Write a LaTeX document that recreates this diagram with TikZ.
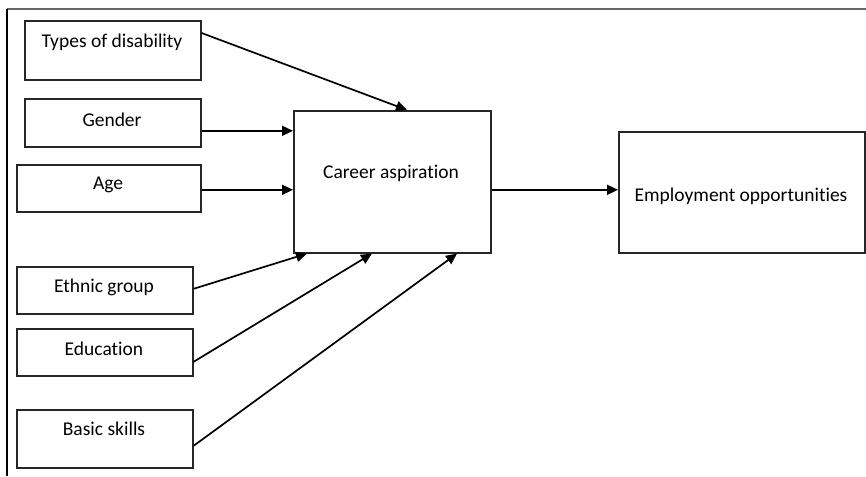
\documentclass[tikz,border=0pt]{standalone}
\usepackage{fontspec}
\setmainfont{Carlito}[Ligatures=NoCommon]
\usetikzlibrary{arrows.meta,calc}
\begin{document}
\begin{tikzpicture}[x=1pt,y=-1pt,
  box/.style={draw=black!85,line width=1.6pt,minimum width=#1,inner sep=0pt,anchor=north west},
  lbl/.style={font=\fontsize{19.5}{22}\selectfont,inner sep=0pt},
  arr/.style={line width=1.7pt,-{Triangle[length=11pt,width=10pt]}}]
\useasboundingbox (0,0) rectangle (866,476);
\draw[gray!80!black,line width=1.5pt] (7,9) coordinate (ftop) -- (866,9) coordinate (fright);
\draw[black,line width=1.2pt] (ftop) -- (7,476) coordinate (fbot);
% boxes
\node[box=176pt,minimum height=59pt] (types) at (24,20) {};
\node[box=176pt,minimum height=48pt] (gender) at (24,98) {};
\node[box=184pt,minimum height=47pt] (age) at (16,164) {};
\node[box=197pt,minimum height=142pt] (ca) at (293,110) {};
\node[box=246pt,minimum height=121pt] (eo) at (618,131) {};
\node[box=176pt,minimum height=47pt] (ethnic) at (16,266) {};
\node[box=176pt,minimum height=47pt] (educ) at (16,328) {};
\node[box=176pt,minimum height=58pt] (basic) at (16,409) {};
% labels
\node[lbl] (typesT) at (112,42) {Types of disability};
\node[lbl] (genderT) at (112,120) {Gender};
\node[lbl] (ageT) at (108,185) {Age};
\node[lbl] (caT) at (391,173) {Career aspiration};
\node[lbl] (eoT) at (741,196) {Employment opportunities};
\node[lbl] (ethnicT) at (104,287) {Ethnic group};
\node[lbl] (educT) at (104,349) {Education};
\node[lbl] (basicT) at (104,429) {Basic skills};
% arrows
\draw[arr] ([yshift=-13pt]types.north east) -- ([xshift=114pt]ca.north west);
\draw[arr] ([yshift=-8pt]gender.east) -- ([yshift=-8pt]gender.east -| ca.west);
\draw[arr] ([yshift=-1.5pt]age.east) -- ([yshift=-1.5pt]age.east -| ca.west);
\draw[arr] ([yshift=-8pt]ca.east) -- ([yshift=-8pt]ca.east -| eo.west);
\draw[arr] ([yshift=1.5pt]ethnic.east) -- ([xshift=14pt]ca.south west);
\draw[arr] ([yshift=-9.5pt]educ.east) -- ([xshift=79pt]ca.south west);
\draw[arr] ([yshift=-7pt]basic.east) -- ([xshift=164pt]ca.south west);
\end{tikzpicture}
\end{document}
